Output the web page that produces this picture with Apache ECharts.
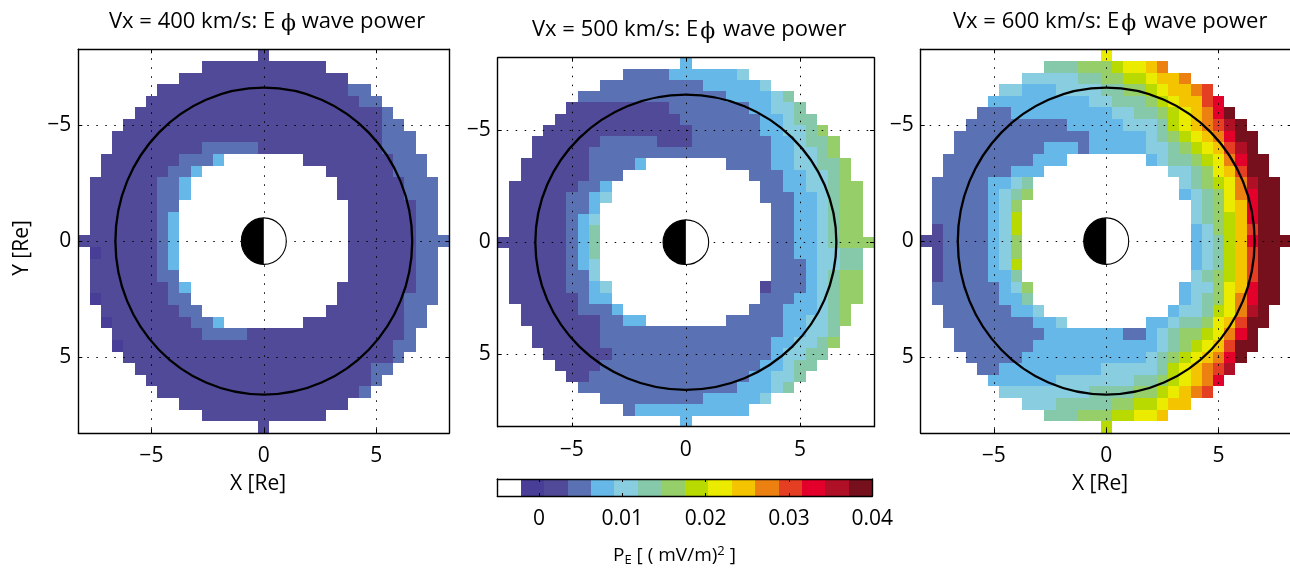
<!DOCTYPE html>
<html><head><meta charset="utf-8">
<style>html,body{margin:0;padding:0;background:#fff}#c{width:1290px;height:570px}</style>
<script src="https://cdn.jsdelivr.net/npm/echarts@6/dist/echarts.min.js"></script>
</head><body><div id="c"></div>
<script>
// Colour levels of the colour bar: index 0 is the white bin.
const palette = ['#ffffff','#483d97','#504a98','#5a72b4','#65b8e8','#88cde0','#85c9aa','#96cf6a','#b8da00','#ebeb00','#f5c400','#ec8112','#e43f22','#e3002b','#b01026','#75101c'];
const colorbarMin = -0.005, colorbarMax = 0.04;
const colorbarTicks = [0, 0.01, 0.02, 0.03, 0.04];
const colorbarTickLabels = ['0', '0.01', '0.02', '0.03', '0.04'];
const axisTicks = [-5, 0, 5];
const axisTickLabels = ['\u22125', '0', '5'];
const axisExtent = 8.25;
const cellSize = 0.5;
const boundaryRadius = [6.6];
const earthRadius = [1];

// Each row (Y bin -16..16, step 0.5 Re) lists runs: first X bin, last X bin, colour level.
const vx400Rows = [
[0,0,2],
[-5,5,2],
[-7,7,2],
[-9,7,2,8,9,3],
[-10,8,2,9,10,3],
[-11,10,2,11,11,3],
[-12,10,2,11,12,3],
[-13,10,2,11,13,3],
[-13,-6,2,-5,-1,3,0,10,2,11,13,3],
[-14,-8,2,-7,-5,3,-4,-4,4,4,11,2,12,14,3],
[-14,-9,2,-8,-7,3,-6,-6,4,6,11,2,12,14,3],
[-15,-10,2,-9,-8,3,-7,-7,4,7,12,2,13,15,3],
[-15,-10,2,-9,-8,3,-7,-7,4,7,12,2,13,15,3],
[-15,-10,2,-9,-8,3,8,13,2,14,15,3],
[-15,-10,2,-9,-9,3,-8,-8,4,8,13,2,14,15,3],
[-15,-10,2,-9,-9,3,-8,-8,4,8,13,2,14,15,3],
[-16,-10,2,-9,-9,3,-8,-8,4,8,13,2,14,16,3],
[-15,-15,1,-14,-10,2,-9,-9,3,-8,-8,4,8,13,2,14,15,3],
[-15,-10,2,-9,-9,3,-8,-8,4,8,13,2,14,15,3],
[-15,-10,2,-9,-8,3,8,13,2,14,15,3],
[-15,-9,2,-8,-8,3,-7,-7,4,7,13,2,14,15,3],
[-15,-15,1,-14,-9,2,-8,-7,3,7,12,2,13,15,3],
[-14,-8,2,-7,-6,3,6,12,2,13,14,3],
[-14,-14,1,-13,-7,2,-6,-5,3,-4,-4,4,4,12,2,13,14,3],
[-13,-6,2,-5,-2,3,-1,12,2,13,13,3],
[-13,-13,1,-12,11,2,12,13,3],
[-12,11,2,12,12,3],
[-11,9,2,10,11,3],
[-10,9,2,10,10,3],
[-9,8,2,9,9,3],
[-7,7,2],
[-5,5,2],
[0,0,2]
];
const vx500Rows = [
[0,0,4],
[-5,-2,3,-1,4,4,5,5,5],
[-7,1,3,2,6,4,7,7,5],
[-9,3,3,4,7,4,8,8,5,9,9,6],
[-10,-2,2,-1,5,3,6,7,4,8,9,5,10,10,6],
[-11,-1,2,0,6,3,7,8,4,9,9,5,10,11,6],
[-12,0,2,1,6,3,7,8,4,9,10,5,11,11,6,12,12,7],
[-13,-8,2,-7,-3,3,-2,0,2,1,7,3,8,9,4,10,10,5,11,12,6,13,13,7],
[-13,-9,2,-8,7,3,8,9,4,10,11,5,12,12,6,13,13,7],
[-14,-9,2,-8,-5,3,-4,-4,4,4,7,3,8,9,4,10,11,5,12,13,6,14,14,7],
[-14,-9,2,-8,-6,3,6,8,3,9,10,4,11,12,5,13,13,6,14,14,7],
[-15,-10,2,-9,-8,3,-7,-7,4,7,8,3,9,10,4,11,12,5,13,13,6,14,15,7],
[-15,-11,2,-10,-9,3,-8,-8,4,-7,-7,5,7,9,3,10,11,4,12,12,5,13,13,6,14,15,7],
[-15,-11,2,-10,-9,3,-8,-8,4,8,9,3,10,11,4,12,12,5,13,13,6,14,15,7],
[-15,-11,2,-10,-10,3,-9,-9,4,-8,-8,5,8,9,3,10,11,4,12,12,5,13,13,6,14,15,7],
[-15,-11,2,-10,-10,3,-9,-9,4,-8,-8,6,8,9,3,10,11,4,12,12,5,13,13,6,14,15,7],
[-16,-11,2,-10,-10,3,-9,-9,4,-8,-8,6,8,9,3,10,11,4,12,12,5,13,13,6,14,16,7],
[-15,-11,2,-10,-10,3,-9,-9,4,-8,-8,6,8,9,3,10,11,4,12,13,5,14,15,6],
[-15,-11,2,-10,-10,3,-9,-9,4,-8,-8,5,8,10,3,11,11,4,12,13,5,14,15,6],
[-15,-11,2,-10,-9,3,-8,-8,5,8,10,3,11,11,4,12,12,5,13,13,6,14,15,7],
[-15,-11,2,-10,-9,3,-8,-8,4,-7,-7,5,7,7,2,8,10,3,11,11,4,12,12,5,13,13,6,14,15,7],
[-15,-10,2,-9,-9,3,-8,-7,4,7,9,3,10,11,4,12,12,5,13,13,6,14,15,7],
[-14,-10,2,-9,-7,3,-6,-6,4,6,8,3,9,11,4,12,12,5,13,13,6,14,14,7],
[-14,-8,2,-7,-6,3,-5,-4,4,4,8,3,9,10,4,11,12,5,13,13,6,14,14,7],
[-13,-8,2,-7,8,3,9,10,4,11,12,5,13,13,6],
[-13,-8,2,-7,7,3,8,9,4,10,11,5,12,12,6,13,13,7],
[-12,-7,2,-6,7,3,8,8,4,9,10,5,11,12,6],
[-11,-8,2,-7,6,3,7,8,4,9,9,5,10,11,6],
[-10,-9,2,-8,5,3,6,7,4,8,9,5,10,10,6],
[-9,4,3,5,7,4,8,8,5,9,9,6],
[-7,1,3,2,6,4,7,7,5],
[-5,-5,3,-4,5,4],
[0,0,4]
];
const vx600Rows = [
[0,0,9],
[-5,-3,6,-2,0,7,1,1,8,2,3,9,4,4,10,5,5,11],
[-7,-3,5,-2,-1,6,0,1,7,2,3,8,4,4,9,5,6,10,7,7,11],
[-9,-8,5,-7,-5,4,-4,-1,5,0,1,6,2,3,7,4,4,8,5,5,9,6,7,10,8,8,11,9,9,12],
[-10,-2,4,-1,0,5,1,3,6,4,4,7,5,5,8,6,6,9,7,8,10,9,9,12,10,10,13],
[-11,-9,3,-8,0,4,1,2,5,3,4,6,5,5,7,6,6,8,7,7,9,8,8,10,9,9,11,10,10,13,11,11,15],
[-12,-4,3,-3,1,4,2,4,5,5,5,6,6,6,8,7,7,9,8,8,10,9,9,11,10,10,12,11,11,14,12,12,15],
[-13,-2,3,-1,3,4,4,4,5,5,5,6,6,6,7,7,7,8,8,8,9,9,9,10,10,10,11,11,11,13,12,13,15],
[-13,-6,3,-5,-3,4,-2,-2,3,-1,3,4,4,5,5,6,6,6,7,7,7,8,8,8,9,9,9,10,10,10,11,11,12,12,12,14,13,13,15],
[-14,-7,3,-6,-4,4,4,4,4,5,5,5,6,7,6,8,8,7,9,9,8,10,10,9,11,11,11,12,12,13,13,14,15],
[-14,-9,3,-8,-6,4,6,7,5,8,8,6,9,9,7,10,10,9,11,11,10,12,12,12,13,14,15],
[-15,-11,3,-10,-9,4,-8,-8,5,-7,-7,6,7,7,5,8,8,6,9,9,7,10,10,8,11,11,9,12,12,11,13,13,14,14,15,15],
[-15,-11,3,-10,-10,4,-9,-9,5,-8,-8,6,-7,-7,7,7,7,4,8,8,5,9,9,6,10,10,7,11,11,9,12,12,11,13,13,13,14,15,15],
[-15,-11,3,-10,-10,4,-9,-9,5,-8,-8,7,8,8,5,9,9,6,10,10,7,11,11,9,12,12,10,13,13,13,14,15,15],
[-15,-11,3,-10,-10,4,-9,-9,5,-8,-8,8,8,8,5,9,9,6,10,10,7,11,11,8,12,12,10,13,13,13,14,15,15],
[-15,-15,2,-14,-11,3,-10,-10,4,-9,-9,5,-8,-8,8,8,8,4,9,9,5,10,10,7,11,11,8,12,12,10,13,13,12,14,15,15],
[-16,-15,2,-14,-11,3,-10,-10,4,-9,-9,5,-8,-8,7,8,8,4,9,9,5,10,10,6,11,11,8,12,12,10,13,13,13,14,16,15],
[-15,-15,2,-14,-11,3,-10,-10,4,-9,-9,5,-8,-8,7,8,8,4,9,9,5,10,10,6,11,11,8,12,12,10,13,13,12,14,15,15],
[-15,-15,2,-14,-11,3,-10,-10,4,-9,-9,5,-8,-8,8,8,8,4,9,9,5,10,10,6,11,11,8,12,12,10,13,13,12,14,15,15],
[-15,-15,2,-14,-11,3,-10,-9,4,-8,-8,6,8,8,5,9,9,6,10,10,7,11,11,8,12,12,10,13,13,12,14,15,15],
[-15,-10,3,-9,-9,4,-8,-8,5,-7,-7,7,7,7,4,8,9,5,10,10,7,11,11,9,12,12,10,13,13,13,14,15,15],
[-15,-10,3,-9,-8,4,-7,-7,6,7,7,4,8,8,5,9,9,6,10,10,7,11,11,9,12,12,11,13,13,13,14,15,15],
[-14,-9,3,-8,-7,4,-6,-6,5,6,6,4,7,8,5,9,9,6,10,10,8,11,11,9,12,12,11,13,13,14,14,14,15],
[-14,-7,3,-6,-5,4,-4,-4,5,4,5,4,6,6,5,7,8,6,9,9,7,10,10,9,11,11,10,12,12,12,13,14,15],
[-13,-6,3,-5,1,4,2,3,3,4,4,4,5,5,5,6,6,6,7,8,7,9,9,8,10,10,9,11,11,11,12,12,13,13,13,15],
[-13,-7,3,-6,4,4,5,5,5,6,6,6,7,7,7,8,8,8,9,9,9,10,10,10,11,11,12,12,13,15],
[-12,-8,3,-7,3,4,4,4,5,5,5,6,6,6,7,7,7,8,8,8,9,9,9,10,10,10,11,11,11,13,12,12,15],
[-11,-10,3,-9,-1,4,0,4,5,5,5,6,6,6,8,7,7,9,8,8,10,9,9,11,10,10,12,11,11,14],
[-10,-5,4,-4,2,5,3,4,6,5,5,7,6,6,8,7,7,9,8,8,10,9,9,11,10,10,13],
[-9,-2,5,-1,2,6,3,4,7,5,5,8,6,6,9,7,7,10,8,8,11,9,9,12],
[-7,-5,5,-4,0,6,1,2,7,3,4,8,5,5,9,6,7,10],
[-5,-3,6,-2,0,7,1,2,8,3,4,9,5,5,10],
[0,0,8]
];

const FONT = '"Open Sans","Noto Sans",sans-serif';
const BLACK = '#000';
const TEXT = '#000';

function cellsFrom(rows) {
  const out = [];
  rows.forEach((runs, ri) => {
    const y = (ri - 16) * cellSize;
    for (let k = 0; k < runs.length; k += 3) {
      for (let c = runs[k]; c <= runs[k + 1]; c++) out.push([c * cellSize, y, runs[k + 2]]);
    }
  });
  return out;
}
function renderCell(params, api) {
  const x = api.value(0), y = api.value(1), half = cellSize / 2;
  const a = api.coord([x - half, y - half]), b = api.coord([x + half, y + half]);
  const x0 = Math.round(a[0]), y0 = Math.round(a[1]);
  return { type: 'rect', shape: { x: x0, y: y0, width: Math.round(b[0]) - x0, height: Math.round(b[1]) - y0 },
    style: { fill: palette[api.value(2)] } };
}
function renderBoundary(params, api) {
  const c = api.coord([0, 0]), s = api.size([api.value(0), api.value(0)]);
  return { type: 'ellipse', shape: { cx: c[0], cy: c[1], rx: s[0], ry: s[1] },
    style: { fill: 'none', stroke: '#000', lineWidth: 2.3 } };
}
function renderEarth(params, api) {
  const c = api.coord([0, 0]), s = api.size([api.value(0), api.value(0)]);
  return { type: 'group', children: [
    { type: 'ellipse', shape: { cx: c[0], cy: c[1], rx: s[0], ry: s[1] }, style: { fill: '#fff', stroke: '#000', lineWidth: 1.1 } },
    { type: 'sector', x: c[0], y: c[1], scaleX: s[0], scaleY: s[1],
      shape: { cx: 0, cy: 0, r: 1, r0: 0, startAngle: Math.PI / 2, endAngle: Math.PI * 3 / 2 },
      style: { fill: '#000' } }
  ] };
}

const layouts = [
  { l: 78.3, t: 49.3, w: 371, h: 383.7, rows: vx400Rows },
  { l: 497.7, t: 57.7, w: 376.3, h: 369, rows: vx500Rows },
  { l: 920.7, t: 49.3, w: 371, h: 383.7, rows: vx600Rows }
];
const fmtTick = v => axisTickLabels[axisTicks.indexOf(v)];

const grid = [], xAxis = [], yAxis = [], series = [];
layouts.forEach((p, i) => {
  grid.push({ left: p.l, top: p.t, width: p.w, height: p.h, containLabel: false, outerBoundsMode: 'none' });
  const line = { show: true, onZero: false, lineStyle: { color: BLACK, width: 1.4 } };
  const tick = { show: true, inside: true, length: 4, customValues: axisTicks, lineStyle: { color: BLACK, width: 1 } };
  const split = { show: true, lineStyle: { color: '#000', width: 1, type: [1.5, 7.5] } };
  const range = { type: 'value', min: -axisExtent, max: axisExtent, gridIndex: i, z: 5 };
  xAxis.push(Object.assign({}, range, { position: 'bottom', axisLine: line, axisTick: tick, splitLine: split,
    axisLabel: { show: true, customValues: axisTicks, formatter: fmtTick, margin: 13, color: TEXT, fontSize: 21, fontFamily: FONT } }));
  xAxis.push(Object.assign({}, range, { position: 'top', axisLine: line, axisTick: tick, splitLine: { show: false }, axisLabel: { show: false } }));
  yAxis.push(Object.assign({}, range, { inverse: true, position: 'left', axisLine: line, axisTick: tick, splitLine: split,
    axisLabel: { show: true, customValues: axisTicks, formatter: fmtTick, margin: 7, padding: [3, 0, 0, 0], color: TEXT, fontSize: 21, fontFamily: FONT } }));
  yAxis.push(Object.assign({}, range, { inverse: true, position: 'right', axisLine: line, axisTick: tick, splitLine: { show: false }, axisLabel: { show: false } }));
  const xi = i * 2, yi = i * 2;
  series.push({ type: 'custom', xAxisIndex: xi, yAxisIndex: yi, z: 2, silent: true, renderItem: renderCell, data: cellsFrom(p.rows) });
  series.push({ type: 'custom', xAxisIndex: xi, yAxisIndex: yi, z: 7, silent: true, renderItem: renderBoundary, data: boundaryRadius.map(r => [r]) });
  series.push({ type: 'custom', xAxisIndex: xi, yAxisIndex: yi, z: 8, silent: true, renderItem: renderEarth, data: earthRadius.map(r => [r]) });
});

// Colour bar
grid.push({ left: 497.3, top: 479, width: 375, height: 17, containLabel: false, outerBoundsMode: 'none' });
const cbLine = { show: true, onZero: false, lineStyle: { color: BLACK, width: 1.4 } };
const cbTick = { show: true, inside: true, length: 3, customValues: colorbarTicks, lineStyle: { color: BLACK, width: 1 } };
xAxis.push({ type: 'value', gridIndex: 3, min: colorbarMin, max: colorbarMax, position: 'bottom', z: 5, axisLine: cbLine, axisTick: cbTick, splitLine: { show: false },
  axisLabel: { show: true, customValues: colorbarTicks, formatter: v => colorbarTickLabels[colorbarTicks.indexOf(v)], margin: 13, color: TEXT, fontSize: 21, fontFamily: FONT } });
xAxis.push({ type: 'value', gridIndex: 3, min: colorbarMin, max: colorbarMax, position: 'top', z: 5, axisLine: cbLine, axisTick: cbTick, splitLine: { show: false }, axisLabel: { show: false } });
const cbY = { type: 'value', gridIndex: 3, min: 0, max: 1, z: 5, axisLine: cbLine, axisTick: { show: false }, axisLabel: { show: false }, splitLine: { show: false } };
yAxis.push(Object.assign({}, cbY, { position: 'left' }));
yAxis.push(Object.assign({}, cbY, { position: 'right' }));
const cbStep = (colorbarMax - colorbarMin) / palette.length;
series.push({ type: 'custom', xAxisIndex: 6, yAxisIndex: 6, z: 2, silent: true,
  data: palette.map((c, i) => [colorbarMin + i * cbStep, i]),
  renderItem(params, api) {
    const a = api.coord([api.value(0), 1]), b = api.coord([api.value(0) + cbStep, 0]);
    const x0 = Math.round(a[0]);
    return { type: 'rect', shape: { x: x0, y: a[1], width: Math.round(b[0]) - x0, height: b[1] - a[1] }, style: { fill: palette[api.value(1)] } };
  } });

const phiFont = '"DejaVu Serif","Liberation Serif",serif';
const titleRich = {
  phi: { fontFamily: phiFont, fontSize: 22, color: TEXT, padding: [5, 0, 0, 0] },
  phiWide: { fontFamily: phiFont, fontSize: 22, color: TEXT, padding: [5, 2, 0, 2] }
};
const titleStyle = { fontFamily: FONT, fontSize: 22, fontWeight: 'normal', color: TEXT, rich: titleRich };
const title = [
  { text: 'Vx = 400 km/s: E {phi|\u03d5} wave power', left: 109, top: 8, padding: 0, textStyle: titleStyle },
  { text: 'Vx = 500 km/s: E{phiWide|\u03d5} wave power', left: 532, top: 16, padding: 0, textStyle: titleStyle },
  { text: 'Vx = 600 km/s: E{phiWide|\u03d5} wave power', left: 953, top: 8, padding: 0, textStyle: titleStyle },
  { text: 'P{sub|E} [ ( mV/m){sup|2} ]', left: 613, top: 545, padding: 0, textStyle: { fontFamily: FONT, fontSize: 19, fontWeight: 'normal', color: TEXT,
      rich: { sub: { fontFamily: FONT, fontSize: 13, color: TEXT, padding: [9, 0, 0, 0] }, sup: { fontFamily: FONT, fontSize: 13, color: TEXT, padding: [0, 0, 9, 0] } } } }
];
const lab = (x, y, text, rot) => ({ type: 'text', x, y, rotation: rot || 0, z: 20,
  style: { text, fontFamily: FONT, fontSize: 21, fill: TEXT, textAlign: 'center', textVerticalAlign: 'middle' } });
const graphic = [ lab(258, 484, 'X [Re]'), lab(1100, 484, 'X [Re]'), lab(22, 248, 'Y [Re]', Math.PI / 2) ];

const chart = echarts.init(document.getElementById('c'), null, { renderer: 'canvas' });
chart.setOption({ animation: false, backgroundColor: '#fff', title, grid, xAxis, yAxis, series, graphic });
</script></body></html>
